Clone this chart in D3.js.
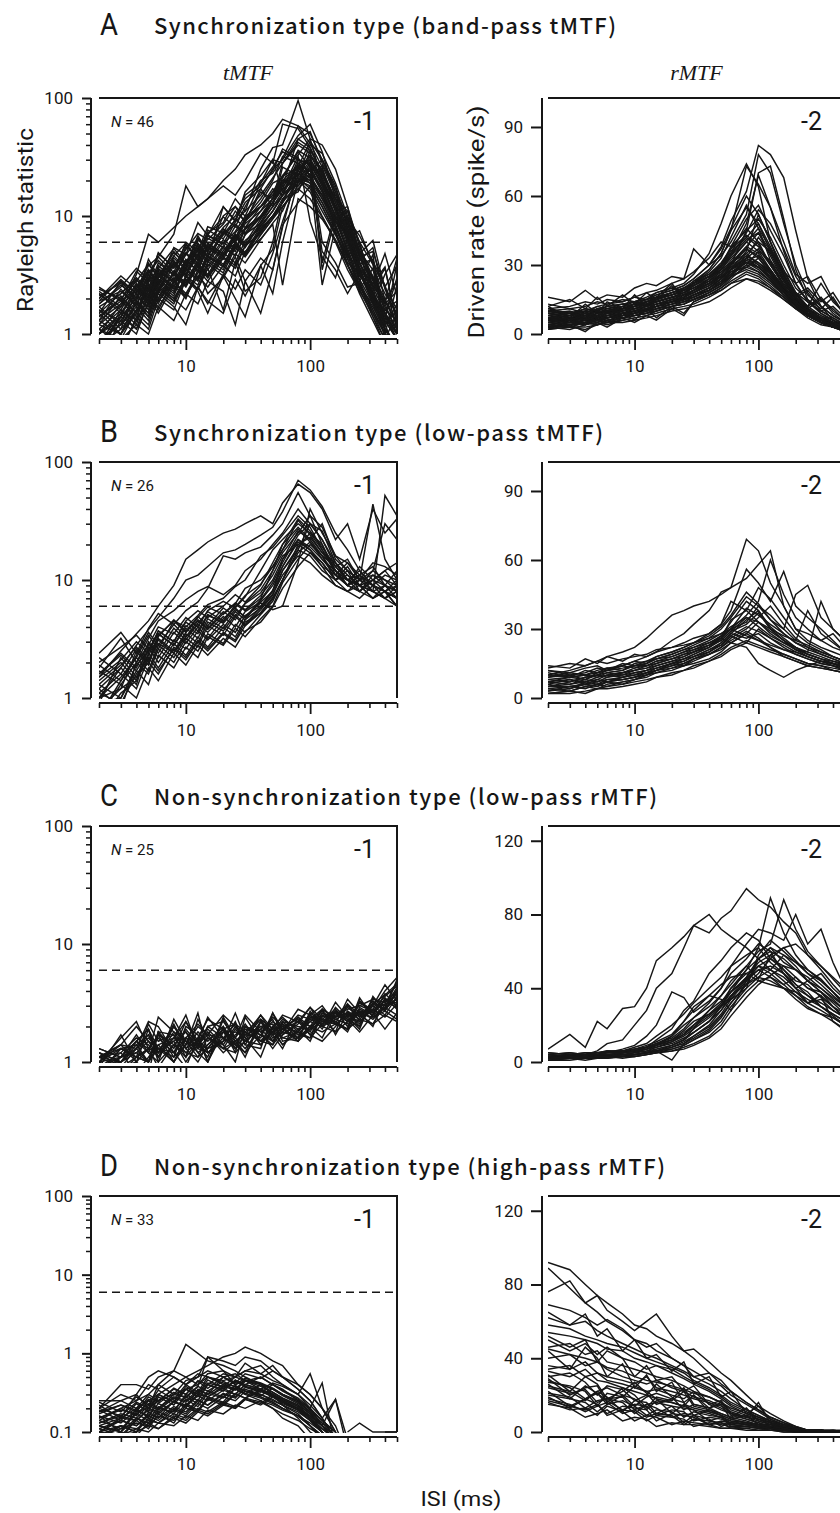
<!DOCTYPE html>
<html><head><meta charset="utf-8">
<script src="https://cdn.jsdelivr.net/npm/d3@7"></script>
<style>body{margin:0;background:#fff}svg{display:block}</style>
</head><body>
<svg id="chart" width="840" height="1513"></svg>
<script>
// ---------------- DATA ----------------
const ISI = [2,3,4,5,6,8,10,12.5,15,20,25,30,40,50,60,80,100,125,160,200,250,320,400,500];

const panelLetters = ["A","B","C","D"];
const panelTitles = [
  "Synchronization type (band-pass tMTF)",
  "Synchronization type (low-pass tMTF)",
  "Non-synchronization type (low-pass rMTF)",
  "Non-synchronization type (high-pass rMTF)"
];
const panelN = [46,26,25,33];
const columnHeaders = ["tMTF","rMTF"];
const cornerLabels = ["-1","-2"];
const xTickLabels = [10,100];
const xMinorTicks = [2,3,4,5,6,7,8,9,20,30,40,50,60,70,80,90,200,300,400,500];
const logTicks1 = [1,10,100];
const logTicks01 = [0.1,1,10,100];
const rateTicksAB = [0,30,60,90];
const rateTicksCD = [0,40,80,120];
const rayleighThreshold = 5.99;

const rayleighA = [
[1.2,2.1,1.5,3.0,4.5,7,18,12,14,20,25,33,40,50,66,58,50,30,18,8,4,2.5,1.5,1.0],
[0.8,1.4,2.6,1.9,3.4,2.8,5.5,4.6,7.2,8.8,14,11,25,38,40,95,45,20,12,6,3.2,2.0,1.2,0.7],
[2.3,1.7,3.2,7,6,8,10,12,14,18,15,20,34,28,60,55,38,22,14,9,5,3.5,2.2,1.5],
[1.5,2.8,2.0,4.3,3.1,5.0,3.8,6.2,5.5,7.0,9.2,13,17,25,30,48,60,35,14,11,4.5,5.0,2.5,3.8],
[0.9,1.2,1.8,1.4,2.5,2.0,1.6,2.5,1.8,3.2,2.4,3.5,2.6,4.8,9.0,22,32,24,12,7,4.0,2.2,1.3,0.9],
[1.8,2.5,3.6,2.9,4.8,3.7,5.2,7.1,6.3,8.5,12,10,19,26,35,30,28,18,12,9.5,6.8,4.1,2.6,1.1],
[1.1,0.9,1.6,2.3,1.9,3.0,2.6,4.1,5.5,4.6,6.4,9.5,12,16,22,33,45,40,25,12,5.5,3.0,1.9,1.2],
[2.0,3.1,2.4,3.8,4.5,3.3,6.0,5.0,8.1,7.2,11,9.0,16,14,28,42,36,3.5,10,7.0,2.8,4.7,1.0,2.6],
[0.7,1.5,2.2,1.6,3.0,4.2,3.1,5.8,4.4,12,9,16,22,30,28,45,52,28,16,8.5,4.5,2.6,1.8,2.3],
[1.4,2.0,1.3,2.9,2.2,4.6,5.9,4.2,7.0,9.8,8.1,12,20,23,31,58,41,26,11,12,4.8,6.2,2.4,1.4],
[1.0,1.8,2.9,2.1,3.8,2.9,2.0,3.5,2.2,3.0,4.5,2.8,4.4,3.5,8,25,30,21,12,6.2,3.5,1.9,1.1,0.8],
[1.6,1.1,2.3,3.4,2.6,3.9,3.0,5.4,4.1,7.3,6.0,9.1,13,19,21,35,26,17,8,9.8,3.1,2.7,3.7,1.2],
[0.6,1.3,1.0,1.9,2.7,2.1,3.7,6.8,4.9,10,12,8.8,17,12,26,22,40,34,19,10,6.0,3.9,2.5,1.6],
[2.2,1.6,2.7,2.0,3.6,5.3,4.0,6.5,5.3,8.0,10,14,18,24,37,31,22,2.6,8.0,4.6,5.9,2.5,0.9,1.5],
[1.3,2.4,1.7,3.2,2.4,4.1,3.2,4.8,6.8,5.8,7.4,10,12,15,20,27,24,30,17,9.5,5.2,2.9,1.8,1.0],
[0.9,0.7,1.4,1.1,2.0,1.6,2.9,2.3,1.5,3.1,2.0,1.4,3.8,2.2,6,20,28,18,10,5.0,2.6,1.4,0.8,0.6],
[1.9,2.9,2.2,4.0,3.0,4.6,3.6,5.9,4.6,6.9,8.5,7.2,11,16,19,26,21,15,9.0,6.8,4.2,5.4,1.9,2.8],
[1.2,1.0,1.9,1.5,2.8,2.2,3.9,3.0,4.9,3.9,5.9,4.8,7.8,10,13,24,33,25,13,7.4,3.6,2.0,1.4,0.9],
[2.5,1.9,3.4,2.7,4.9,3.6,5.7,4.4,7.6,6.4,9.4,8.0,12,17,15,21,19,13,7.5,4.0,3.3,1.8,3.2,4.7],
[0.8,1.6,1.2,2.4,1.8,3.4,2.7,4.3,3.5,5.4,4.6,6.9,9.8,13,18,45,38,23,14,8.0,4.4,2.8,1.6,1.3],
[1.5,2.2,3.0,2.4,4.0,3.2,4.9,3.9,6.5,5.4,8.2,7.0,10,14,20,18,25,16,9.5,11,6.0,2.2,1.5,1.0],
[1.0,1.4,2.0,3.5,2.6,5.4,4.7,8.8,6.8,12,9.2,15,19,30,16,23,20,27,15,8.8,4.9,3.1,2.0,1.2],
[1.7,1.2,2.5,3.5,2.7,4.4,3.5,5.3,6.9,5.8,8.9,11,15,21,28,40,34,20,11,6.0,3.4,1.9,1.1,0.8],
[0.7,1.0,1.5,1.2,2.2,1.7,1.2,2.5,1.9,1.5,2.9,2.1,3.8,5.2,12,17,22,15,8.5,4.7,2.5,1.6,1.0,0.7],
[2.1,2.7,1.9,3.3,4.2,3.1,4.7,6.4,5.1,7.8,6.5,9.6,14,20,32,28,24,17,10,6.3,3.9,2.6,4.8,2.1],
[1.3,1.8,2.6,2.0,3.3,2.5,4.3,3.4,5.6,4.5,6.9,5.7,8.3,11,15,30,27,19,12,6.9,3.7,2.3,1.4,1.0],
[1.1,0.8,1.3,2.0,1.5,2.6,2.0,3.5,2.8,4.4,3.6,5.6,7.2,10,13,19,36,24,14,7.7,4.1,2.1,1.3,0.9],
[1.8,2.6,2.0,3.0,2.3,3.8,4.8,3.7,5.9,4.8,7.2,9.0,12,15,22,25,30,4.0,11,6.4,7.5,3.9,1.2,1.6],
[0.9,1.2,1.7,1.3,2.3,1.8,2.9,2.4,3.6,1.6,4.1,2.3,3.0,6,14,20,18,12,7.2,4.3,2.6,1.7,1.1,0.7],
[1.4,1.9,1.4,2.6,2.0,3.3,2.6,4.0,3.2,5.1,6.7,5.5,8.9,13,17,32,9,4.5,3.0,6.5,3.3,2.0,1.5,1.1],
[2.4,2.0,2.8,3.9,3.0,4.9,3.9,5.6,4.5,7.5,6.2,8.6,11,14,19,22,20,14,9.2,5.3,2.9,1.8,1.0,0.6],
[1.0,1.5,1.1,1.8,2.4,1.9,3.1,2.6,4.1,3.3,5.4,4.5,6.9,9.5,13,26,43,30,16,8.9,4.7,2.9,1.7,1.1],
[1.6,1.3,2.1,1.7,2.9,2.3,3.6,2.9,4.6,3.8,6.0,7.9,10,13,19,24,21,15,8.8,7.1,3.1,2.4,3.6,1.2],
[0.8,1.1,1.6,2.5,1.9,2.8,2.2,3.3,4.3,3.5,5.6,4.7,7.4,10,14,16,27,6,4,2.5,2.7,1.5,0.9,0.6],
[1.9,2.3,1.8,2.8,3.5,2.7,4.0,5.0,4.0,6.0,5.0,7.7,9.6,13,17,21,17,11,6.9,4.6,3.6,2.5,1.9,4.4],
[1.2,1.7,2.4,1.8,3.1,2.4,3.4,4.6,3.7,5.6,4.6,7.0,8.7,12,16,28,24,16,9.3,5.0,2.8,1.6,1.0,0.8],
[1.5,1.0,1.9,1.4,2.4,3.2,2.5,3.8,3.0,4.7,5.9,4.9,8.2,11,15,19,26,22,13,7.1,3.9,4.3,1.5,0.9],
[0.7,1.4,1.1,2.2,1.6,2.8,2.1,3.1,2.5,3.8,3.1,5.0,6.4,8.5,2.6,14,12,9.4,6.3,3.9,2.5,1.8,1.2,1.8],
[2.0,2.8,2.2,3.5,2.8,4.0,3.2,4.5,5.8,4.7,7.0,5.9,9.4,13,18,23,19,13,8.0,4.8,5.0,1.9,1.3,3.9],
[1.3,1.0,1.6,2.1,1.7,2.7,3.5,2.8,4.5,3.7,5.7,4.6,7.6,10,12,18,23,5,3.5,2.2,3.3,2.0,1.4,1.0],
[1.1,1.6,1.3,2.0,2.6,2.0,3.0,3.9,3.1,4.9,4.0,6.2,7.9,11,15,27,22,14,8.1,4.4,2.4,1.4,0.9,0.6],
[1.7,2.2,2.9,2.3,3.6,2.8,4.2,3.4,5.4,4.3,6.6,5.4,8.6,12,15,20,16,10,6.2,3.8,2.4,3.6,1.1,0.8],
[0.6,0.9,1.2,1.0,1.7,1.3,2.2,1.8,2.8,2.3,1.2,2.8,1.5,3.5,8.4,13,18,12,7.0,3.9,2.2,1.3,0.8,0.5],
[2.2,1.5,2.4,1.9,3.2,2.5,3.9,5.2,4.2,6.3,5.3,7.9,10,14,21,36,31,19,10,5.6,3.2,2.2,1.4,3.0],
[1.4,2.0,1.5,2.7,2.0,3.4,2.6,3.7,3.0,4.5,3.8,5.6,7.0,9.4,12,17,14,9.8,6.0,3.5,2.3,1.5,1.0,0.7],
[1.0,1.3,1.9,1.5,2.5,1.9,3.1,2.4,3.9,3.1,4.8,4.0,6.3,8.7,11,22,29,20,11,6.1,3.4,2.1,1.6,1.9]
];

const rateA = [
[8,9,7,11,10,12,14,15,17,19,21,24,30,38,49,62,82,78,68,45,24,12,6,3],
[5,6,8,7,9,10,12,13,15,18,20,22,28,35,45,73,65,55,40,26,22,25,15,8],
[16,14,19,15,17,16,20,22,21,25,24,37,30,34,40,52,78,70,48,30,18,10,7,4],
[3,4,5,6,7,8,9,11,12,14,15,17,20,24,30,45,70,73,50,28,15,9,6,3],
[10,11,9,12,13,14,16,15,18,20,22,26,35,48,60,74,64,40,25,17,20,14,18,10],
[6,5,7,8,7,9,10,12,14,16,17,19,24,30,38,50,56,45,34,22,14,10,7,4],
[4,3,5,4,6,7,8,9,11,13,14,16,19,22,28,36,52,40,28,18,11,7,4,2],
[12,7,13,9,14,11,17,12,16,22,15,23,26,30,35,42,48,38,26,17,12,22,14,9],
[2,3,2,4,5,6,7,8,10,12,13,15,18,21,25,33,42,35,24,15,9,5,3,1],
[7,8,10,9,11,12,13,14,16,18,19,21,25,29,34,44,54,48,37,25,17,12,8,5],
[9,7,8,10,9,11,12,13,15,17,19,22,27,33,42,56,46,32,21,14,9,6,4,2],
[5,6,4,7,8,9,10,11,13,15,16,18,22,26,31,38,44,34,23,15,10,7,5,3],
[11,12,14,13,15,14,16,18,19,22,24,27,33,40,38,45,50,42,30,20,15,11,16,8],
[3,5,6,5,7,8,9,10,12,14,16,18,21,25,29,35,40,36,27,18,12,8,5,3],
[6,8,7,9,10,11,12,14,15,17,18,20,23,27,32,40,46,37,26,16,10,6,4,2],
[8,6,9,8,10,12,11,13,14,16,17,19,22,25,28,33,37,30,22,15,11,8,6,4],
[4,5,6,7,6,8,9,10,11,13,15,17,20,24,28,32,34,28,20,13,8,5,3,2],
[13,11,12,14,13,15,14,16,18,20,19,22,25,28,31,35,30,26,20,16,19,12,8,5],
[2,4,1,5,3,7,5,8,6,11,8,14,17,20,24,30,36,32,24,16,10,6,3,2],
[7,9,8,10,9,11,13,12,14,16,18,20,24,29,35,48,69,55,36,22,14,9,6,3],
[5,4,6,5,7,8,9,11,12,14,15,17,19,22,26,31,29,25,19,14,10,7,5,4],
[9,10,8,11,12,11,13,15,16,18,20,22,26,31,37,46,40,30,21,14,12,16,10,6],
[3,4,5,4,6,7,8,9,10,12,13,15,18,21,25,29,33,27,20,13,8,5,3,1],
[6,7,9,8,10,9,11,13,14,16,18,21,25,30,36,42,38,31,23,16,11,7,5,3],
[10,8,11,10,12,13,12,14,16,18,20,23,28,35,45,55,48,36,25,17,11,15,9,5],
[4,6,5,7,8,7,9,10,12,13,15,16,19,22,26,30,27,23,18,13,9,6,4,2],
[8,7,6,9,8,10,11,12,13,15,17,19,22,26,30,37,34,28,20,14,10,7,5,4],
[2,6,4,8,5,9,6,11,7,12,9,14,17,20,23,27,25,21,16,11,7,4,3,1],
[7,5,8,7,9,8,10,11,13,14,16,18,21,25,28,34,31,26,19,13,9,6,4,2],
[11,9,10,12,11,13,14,13,15,17,19,21,24,28,33,40,36,28,20,14,10,7,5,3],
[5,7,6,8,7,9,10,12,13,15,16,19,23,28,34,41,44,36,25,16,10,6,4,2],
[3,2,4,5,4,6,7,8,9,11,12,13,16,19,22,26,24,20,15,11,8,5,3,2],
[9,8,10,9,11,10,12,13,14,16,17,19,22,25,29,33,29,24,18,13,9,6,4,2],
[6,5,7,6,8,9,8,10,11,13,14,16,19,23,27,31,28,23,17,12,8,5,3,2],
[4,5,4,6,7,8,9,10,12,14,15,17,20,24,30,38,35,27,19,12,8,5,3,2],
[12,15,11,16,12,17,13,18,15,21,17,22,25,27,30,34,31,27,21,18,14,10,12,7],
[5,6,7,6,8,9,10,11,12,14,15,16,19,22,25,28,26,22,17,12,8,6,4,3],
[8,9,7,10,9,11,12,14,15,17,19,21,25,30,37,43,39,30,21,14,9,6,4,2],
[3,4,5,6,5,7,8,9,11,12,14,15,18,21,25,32,29,24,18,12,8,5,3,2],
[7,6,8,7,9,10,11,12,13,15,16,18,21,24,27,29,27,23,18,13,9,7,5,3],
[10,9,11,10,12,13,14,15,17,19,21,24,30,37,46,60,52,40,27,22,25,15,11,6],
[4,3,5,6,5,7,8,9,10,12,13,15,17,19,22,24,23,20,16,12,8,6,4,2],
[6,7,6,8,9,8,10,11,12,14,15,17,20,23,26,33,30,25,19,13,9,6,4,2],
[9,8,9,11,10,12,13,14,16,17,19,20,23,26,31,37,33,26,19,14,10,7,5,3],
[2,3,3,4,5,5,6,7,8,10,11,12,14,17,20,24,22,19,15,11,8,5,3,2],
[7,8,9,8,10,11,12,13,14,16,17,19,22,25,28,31,29,25,19,14,10,7,5,3]
];

const rayleighB = [
[1.5,2.5,3.5,4.5,6.0,9.0,15,18,21,25,27,30,35,30,45,65,55,40,22,30,15,40,25,33],
[1.0,1.8,2.8,3.8,4.8,7.0,10,11,13,17,18,20,24,28,38,70,58,42,25,18,12,9,8,7],
[2.4,3.6,2.4,3.9,5.2,4.2,5.5,6.5,8.5,16,15,17,19,24,30,55,35,28,16,14,11,13,9,8],
[1.2,0.8,2.0,3.2,4.5,5.5,6.8,8.0,8.8,7.5,9.0,12,15,20,25,40,30,22,13,15,10,44,15,10],
[0.7,1.4,2.2,3.4,2.6,4.5,4.0,5.0,6.2,7.0,8.8,10,16,19,24,35,28,18,12,10,9,12,30,22],
[1.8,3.2,2.0,2.8,4.0,3.5,4.8,4.0,5.5,6.6,5.8,7.2,12,18,22,30,25,20,11,9,8,11,10,9],
[1.3,1.0,1.9,2.5,3.7,3.0,4.5,5.5,4.8,6.0,7.5,6.5,9.0,14,20,28,22,16,10,13,9,8,52,35],
[0.9,2.2,1.5,2.3,3.3,4.6,3.7,4.8,5.9,5.1,6.3,8.5,10,13,18,32,24,17,14,10,11,9,7,8],
[2.0,2.7,3.4,2.6,3.5,2.8,4.1,3.5,5.0,4.4,6.2,5.5,7.0,12,17,25,35,20,12,9,13,10,8,6],
[1.1,0.9,1.6,2.1,2.9,2.4,3.3,4.2,3.6,4.9,4.0,5.4,6.5,8.0,15,22,18,14,10,12,8,10,9,12],
[1.6,2.4,1.8,2.9,2.2,3.6,2.9,4.0,3.2,4.7,5.8,4.8,6.8,9.5,14,24,30,26,14,11,9,7,9,8],
[0.8,1.2,2.5,1.9,3.2,2.5,3.6,4.6,3.9,5.4,4.6,6.3,7.8,11,16,20,17,13,9,8,10,8,7,9],
[1.4,2.0,1.4,3.0,2.4,3.9,3.1,4.3,5.4,4.5,5.9,7.4,9.2,13,18,27,21,15,11,14,10,12,10,8],
[1.0,1.5,2.2,1.7,2.8,2.2,3.2,2.7,4.1,3.4,4.9,4.1,5.6,7.4,12,19,25,18,12,9,11,9,8,7],
[2.2,1.6,2.6,2.0,3.4,4.5,3.6,4.9,4.1,5.8,4.9,6.4,8.3,12,20,33,26,19,13,10,12,9,11,10],
[0.6,1.1,1.4,2.4,1.8,2.9,2.3,3.3,2.7,4.0,3.3,4.6,5.8,7.6,11,16,14,11,9,8,7,9,8,6],
[1.7,1.3,2.0,1.6,2.6,2.0,3.0,2.5,3.5,2.9,4.2,3.6,5.1,6.6,10,18,30,22,14,10,8,10,12,14],
[1.2,1.8,1.3,2.7,2.0,3.1,2.6,3.7,3.1,4.2,3.6,5.0,6.0,8.2,13,22,19,15,12,9,11,8,7,8],
[0.9,1.0,1.7,1.3,2.3,1.8,2.7,2.2,3.3,2.8,3.9,3.3,4.7,6.0,9.5,15,20,16,11,10,9,8,9,7],
[1.5,2.1,3.0,2.4,3.7,3.0,4.4,3.7,5.1,4.3,5.6,4.9,6.4,5.6,6.0,14,40,25,16,12,10,14,13,11],
[1.1,1.6,1.2,2.2,1.7,2.6,2.1,3.0,2.5,3.5,3.0,4.1,5.3,7.1,10,20,23,17,12,9,8,7,8,9],
[1.9,1.4,2.3,3.6,2.8,4.2,3.3,4.5,3.8,5.2,6.4,5.6,7.4,10,15,26,22,30,15,12,10,11,9,8],
[0.7,1.3,1.0,1.8,1.4,2.4,1.9,2.8,2.3,3.2,2.7,3.7,4.4,5.9,8.5,13,17,14,10,8,9,7,8,10],
[1.3,1.9,2.7,2.1,3.1,2.4,3.5,2.9,4.4,3.7,5.1,4.2,5.9,8.0,12,18,16,12,10,11,9,10,12,9],
[1.0,1.2,1.5,2.0,1.6,2.7,2.2,3.1,2.6,3.6,3.1,4.4,5.2,6.9,10,17,21,16,13,10,9,8,7,6],
[1.6,2.3,1.7,2.5,3.5,2.8,3.9,3.2,4.7,3.9,5.4,4.6,6.7,9.0,13,21,18,13,11,9,10,9,8,7]
];

const rateB = [
[10,12,14,16,18,20,22,26,30,36,38,40,42,45,48,69,64,50,40,30,25,22,20,18],
[5,7,9,10,12,14,16,18,20,25,28,32,38,46,48,52,58,64,40,30,28,25,22,20],
[14,13,17,15,18,16,19,18,20,22,24,26,28,32,38,56,50,42,55,40,35,30,25,20],
[2,3,5,4,6,7,8,10,12,15,17,19,22,26,30,36,42,60,45,35,30,25,28,22],
[8,9,8,10,11,12,14,15,17,19,21,23,26,30,35,44,40,34,30,45,49,35,30,25],
[4,5,6,5,7,8,9,11,12,14,16,18,20,24,28,34,38,30,25,22,20,18,16,15],
[12,10,11,13,12,14,16,15,18,20,22,24,28,32,42,38,33,28,24,22,19,17,15,13],
[6,4,7,6,8,9,10,12,13,15,14,17,19,22,26,30,35,40,32,26,22,20,18,16],
[3,5,4,6,7,6,8,9,11,12,14,15,17,20,24,28,25,22,19,17,15,14,13,12],
[9,11,10,12,13,12,15,16,17,18,20,22,25,28,30,33,40,36,30,25,38,28,24,20],
[7,6,8,7,9,10,11,12,14,16,17,19,22,25,29,35,31,27,24,21,20,42,30,25],
[11,9,12,11,13,14,13,15,17,19,21,22,24,27,30,27,25,23,21,20,18,16,15,14],
[2,3,2,4,5,6,7,8,9,11,12,14,16,19,22,25,23,21,19,17,15,14,12,11],
[5,6,7,8,7,9,10,11,13,15,16,18,21,23,27,24,30,26,22,19,17,15,14,12],
[13,15,14,16,15,17,18,19,21,22,23,24,26,28,31,35,33,30,27,25,23,20,18,16],
[6,8,7,9,10,11,12,13,14,16,18,20,23,26,30,39,36,32,28,24,22,19,17,15],
[4,3,5,6,5,7,8,10,11,13,14,16,19,22,25,29,26,22,18,16,14,13,12,11],
[8,7,9,10,9,11,12,13,15,17,19,20,23,27,33,42,38,31,26,22,19,17,16,14],
[10,9,10,11,12,11,13,14,16,18,20,21,24,26,24,22,15,12,9,12,14,16,15,13],
[3,4,6,5,7,8,9,10,12,13,15,17,19,21,24,28,33,29,25,21,18,16,14,12],
[7,8,6,8,10,9,11,12,13,15,17,18,21,24,28,26,28,24,21,19,17,15,14,13],
[12,11,13,14,12,15,14,16,18,20,22,24,27,31,36,46,41,34,28,24,21,19,17,15],
[5,5,6,7,8,8,9,11,12,14,15,17,20,23,27,31,29,26,23,20,18,16,15,13],
[9,10,8,11,12,13,14,14,16,17,19,21,23,25,29,32,37,30,25,21,19,17,15,14],
[2,2,3,4,4,5,6,7,9,10,12,13,16,18,21,24,22,20,18,16,14,13,12,11],
[7,9,10,9,11,10,12,14,15,17,18,20,22,26,34,38,48,43,35,28,24,21,18,16]
];

const rayleighC = [
[1.2,0.9,1.0,1.9,1.1,1.6,2.5,1.3,1.2,1.5,2.2,1.4,1.3,2.6,1.7,2.1,2.9,2.0,1.8,3.1,2.2,2.8,4.0,5.2],
[1.0,1.6,2.2,1.3,1.2,2.0,1.5,1.4,1.1,2.4,1.6,1.3,1.9,2.3,1.5,1.6,2.5,3.0,2.1,1.9,3.5,2.4,2.9,4.3],
[0.8,1.3,1.1,1.0,1.8,1.7,1.1,2.3,1.6,1.3,1.2,2.4,1.5,1.4,2.2,1.7,1.6,2.6,2.2,1.9,3.2,2.6,1.9,2.6],
[1.1,1.0,1.3,2.2,2.0,1.2,0.9,1.6,2.3,1.9,1.2,1.5,2.5,1.7,1.3,2.4,1.8,2.8,1.7,2.6,2.1,3.0,4.5,3.3],
[0.9,1.7,1.0,0.8,1.8,1.1,1.4,2.6,1.2,1.5,2.6,1.6,1.1,2.0,1.6,1.5,2.7,2.0,3.2,2.4,1.9,3.6,2.7,3.9],
[1.3,1.1,1.7,1.2,1.0,2.3,1.5,1.1,1.3,1.9,2.1,1.4,2.2,1.8,1.4,1.9,2.2,2.7,2.1,3.4,2.6,2.0,3.5,2.8],
[1.0,1.4,2.0,1.5,1.3,1.0,1.6,2.1,1.7,1.2,1.5,1.8,1.5,2.0,2.4,1.8,1.6,2.1,2.6,2.2,3.2,2.7,3.1,4.7],
[0.7,1.1,1.5,1.9,1.0,1.4,1.8,1.2,1.0,2.0,1.4,1.2,2.2,1.5,1.9,2.2,1.7,1.5,2.0,2.7,2.3,3.0,2.5,3.6],
[1.1,0.9,1.3,1.7,1.2,2.1,1.3,1.5,2.4,1.6,1.3,2.0,1.7,1.4,1.8,2.8,2.5,1.9,2.9,2.3,1.8,2.5,3.8,3.0],
[0.9,1.2,0.8,1.1,1.4,1.0,1.6,1.2,1.4,1.8,1.3,1.5,1.9,1.5,2.1,1.6,2.0,2.3,1.8,2.2,2.7,2.3,2.9,2.5],
[1.2,1.0,1.5,1.9,1.3,1.1,2.0,1.7,1.0,2.3,1.5,1.7,2.5,1.9,1.4,1.8,2.6,2.2,2.5,3.0,2.4,3.3,2.7,4.1],
[0.8,1.3,1.1,1.0,1.7,1.4,1.1,1.5,1.9,1.4,1.0,2.0,1.5,1.8,2.3,1.9,1.5,2.5,2.2,1.8,2.9,2.5,3.4,3.0],
[1.0,1.1,1.5,1.2,2.4,1.8,1.3,1.0,1.4,1.9,1.5,1.1,2.2,1.7,1.9,2.4,2.0,1.6,2.7,2.3,2.0,3.2,2.8,3.5],
[1.1,1.4,1.0,1.3,1.6,1.2,1.9,1.4,2.0,2.2,1.6,2.5,1.8,1.3,1.7,2.2,2.9,2.3,2.1,1.9,3.3,2.7,3.6,4.4],
[0.9,1.0,1.2,1.5,1.1,1.8,1.5,1.3,1.6,1.4,2.0,1.5,1.4,1.8,2.0,1.5,1.9,2.6,2.4,3.1,2.5,2.1,3.1,3.2],
[1.1,1.3,1.4,1.0,1.8,1.3,2.2,1.4,1.2,1.6,1.4,1.9,1.7,2.4,2.0,1.8,2.3,2.8,2.4,2.6,2.0,3.5,3.0,3.8],
[0.7,0.9,1.1,1.3,0.9,1.4,1.2,1.1,1.6,1.3,1.5,1.2,1.7,1.5,1.8,1.6,2.0,1.8,2.1,1.9,2.3,2.1,2.5,2.2],
[1.2,1.0,1.4,1.7,1.2,1.5,1.0,1.4,1.7,2.5,2.0,1.7,1.6,2.6,1.9,1.5,2.0,2.3,2.8,2.2,2.7,2.6,3.3,2.9],
[1.0,1.3,1.1,2.1,1.5,1.7,1.3,1.8,1.5,2.0,1.3,1.7,2.0,2.1,1.6,1.8,2.5,2.1,2.4,2.9,2.4,3.1,2.8,5.0],
[0.8,1.1,1.3,1.0,1.3,1.2,1.6,1.4,1.8,1.3,1.9,1.5,2.0,1.7,2.2,2.0,1.9,2.2,2.1,2.5,2.2,2.8,2.4,3.1],
[1.1,1.2,1.6,1.4,1.1,2.0,1.4,1.6,1.0,1.8,1.6,2.1,1.4,1.9,2.0,2.3,1.7,2.4,2.6,2.4,3.0,2.7,3.3,3.6],
[0.9,1.1,1.5,1.3,1.7,1.0,1.4,2.0,1.7,1.6,2.1,1.8,2.3,1.6,1.8,2.5,2.3,2.1,2.4,2.8,3.0,3.4,3.2,4.0],
[1.3,1.1,1.2,1.0,1.4,1.6,2.2,1.5,1.3,1.5,1.7,2.0,1.8,2.2,1.9,1.6,2.4,2.2,2.7,2.0,2.8,2.5,2.9,3.4],
[1.0,0.8,1.1,1.3,1.2,1.6,1.2,1.5,1.3,1.9,1.4,1.8,1.5,1.8,2.1,1.7,2.2,2.0,2.3,2.1,2.6,2.4,2.7,2.3],
[1.1,1.4,1.3,1.6,1.3,1.5,1.8,1.3,2.0,1.6,1.8,1.6,2.3,1.9,2.5,2.2,2.0,2.8,2.3,2.6,2.5,3.1,3.7,4.6]
];

const rateC = [
[7,15,8,22,18,29,30,40,55,62,68,74,80,72,68,62,56,60,48,40,36,30,25,20],
[4,5,4,6,10,12,20,28,40,48,62,74,70,78,82,94,88,84,76,70,58,50,42,35],
[3,4,3,4,5,7,9,14,20,38,35,27,33,40,52,64,72,70,66,80,64,72,54,40],
[2,3,2,3,4,5,6,8,12,18,28,33,48,55,62,70,66,56,50,44,42,35,30,24],
[4,3,4,5,5,6,8,10,14,20,26,32,40,46,52,58,62,89,70,58,50,44,38,30],
[1,2,2,2,3,3,4,5,6,9,12,18,28,36,44,52,60,64,88,72,60,52,45,38],
[3,3,4,4,4,5,6,7,9,12,15,20,28,33,38,46,56,62,54,50,46,40,34,28],
[2,2,3,3,3,4,5,6,7,9,12,16,22,30,38,50,62,54,48,40,32,36,22,17],
[5,4,5,4,6,5,7,8,10,14,20,24,30,36,42,52,45,58,50,42,38,30,26,22],
[2,3,3,3,4,4,5,7,9,14,22,30,36,42,46,48,44,42,40,38,32,34,28,24],
[3,2,3,4,3,5,6,7,9,12,17,22,26,30,34,40,58,66,60,54,50,45,38,32],
[1,1,2,2,2,3,3,4,5,7,9,12,16,22,30,40,46,50,58,54,48,42,36,30],
[4,5,4,5,6,6,7,9,11,15,22,28,36,34,28,44,52,48,42,46,40,38,32,26],
[2,2,2,3,3,3,4,5,6,8,10,13,18,25,32,42,56,62,58,52,44,48,40,34],
[3,4,3,4,4,5,6,8,10,13,18,24,32,40,48,56,64,60,56,50,44,40,35,30],
[2,3,3,3,4,4,4,5,6,8,11,14,20,28,36,46,54,58,62,55,48,44,38,32],
[1,2,2,2,2,3,3,4,5,6,8,10,14,20,28,38,44,46,42,36,30,26,22,18],
[3,3,3,4,4,4,5,6,8,10,13,16,22,30,40,48,52,50,44,38,34,30,26,22],
[2,2,3,2,3,3,4,5,6,7,9,12,17,24,32,42,48,56,62,64,58,52,46,40],
[4,3,4,4,5,5,6,7,8,11,15,19,25,31,38,45,50,46,40,34,29,26,24,20],
[1,2,1,2,3,2,3,4,5,6,7,9,13,18,25,35,42,47,52,50,44,38,33,28],
[3,4,4,5,5,6,7,8,10,12,16,20,26,32,40,50,56,50,46,40,44,38,30,24],
[2,2,2,3,3,4,4,5,6,1,10,14,19,26,34,44,50,52,48,42,36,32,28,24],
[5,4,5,5,6,6,7,8,9,11,14,18,24,30,36,42,46,44,40,36,32,28,24,20],
[2,3,2,3,3,4,4,5,7,9,12,16,22,28,35,45,52,56,52,46,40,36,30,26]
];

const rayleighD = [
[0.15,0.2,0.25,0.3,0.4,0.6,1.3,1.0,0.8,0.7,0.6,0.5,0.4,0.3,0.25,0.2,0.15,0.1,0.05,null,null,null,null,null],
[0.1,0.15,0.2,0.25,0.3,0.4,0.5,0.6,0.7,0.9,1.0,1.2,1.0,0.8,0.7,0.4,0.3,0.2,0.1,null,null,null,null,null],
[0.25,0.25,0.3,0.5,0.6,0.5,0.4,0.5,0.9,0.8,0.7,0.9,0.8,0.6,0.5,0.35,0.25,0.15,0.08,null,null,null,null,null],
[0.2,0.4,0.4,0.35,0.5,0.6,0.5,0.4,0.55,0.6,0.5,0.6,0.7,0.5,0.4,0.3,0.55,0.2,0.1,null,null,null,null,null],
[0.12,0.1,0.18,0.2,0.25,0.3,0.35,0.4,0.5,0.45,0.5,0.45,0.4,0.35,0.3,0.25,0.2,0.42,0.06,null,null,null,null,null],
[0.18,0.25,0.2,0.3,0.25,0.35,0.3,0.45,0.4,0.55,0.5,0.6,0.55,0.45,0.4,0.3,0.2,0.12,0.26,0.06,null,null,null,null],
[0.1,0.08,0.15,0.12,0.2,0.18,0.3,0.25,0.4,0.35,0.45,0.4,0.5,0.4,0.35,0.25,0.18,0.1,0.06,null,null,null,null,null],
[0.22,0.15,0.3,0.2,0.4,0.3,0.45,0.5,0.6,0.5,0.55,0.45,0.35,0.3,0.22,0.15,0.1,0.08,null,null,null,null,null,null],
[0.08,0.12,0.1,0.18,0.15,0.25,0.2,0.35,0.3,0.5,0.42,0.55,0.48,0.6,0.5,0.4,0.3,0.2,0.12,0.05,null,null,null,null],
[0.14,0.2,0.16,0.25,0.2,0.3,0.28,0.38,0.9,0.6,0.4,0.45,0.38,0.32,0.27,0.22,0.15,0.1,0.07,null,null,null,null,null],
[0.16,0.1,0.2,0.15,0.28,0.22,0.35,0.3,0.42,0.38,0.5,0.75,0.55,0.7,0.5,0.35,0.25,0.15,0.08,null,null,null,null,null],
[0.1,0.14,0.12,0.16,0.14,0.2,0.17,0.25,0.22,0.3,0.28,0.35,0.3,0.25,0.22,0.18,0.14,0.1,0.06,null,null,null,null,null],
[0.2,0.3,0.25,0.4,0.35,0.5,0.4,0.55,0.5,0.4,0.35,0.3,0.25,0.2,0.15,0.12,0.08,null,null,null,null,null,null,null],
[0.12,0.15,0.14,0.2,0.18,0.24,0.22,0.3,0.28,0.36,0.3,0.4,0.35,0.42,0.38,0.3,0.22,0.15,0.26,0.08,null,null,null,null],
[0.09,0.11,0.13,0.12,0.16,0.14,0.2,0.18,0.26,0.22,0.3,0.27,0.33,0.28,0.24,0.2,0.16,0.12,0.09,null,null,null,null,null],
[0.17,0.22,0.18,0.28,0.24,0.36,0.3,0.44,0.36,0.5,0.4,0.48,0.42,0.36,0.3,0.24,0.18,0.13,0.1,null,null,null,null,null],
[0.11,0.09,0.14,0.11,0.17,0.13,0.22,0.18,0.28,0.24,0.36,0.3,0.4,0.32,0.27,0.22,0.17,0.12,0.07,null,null,null,null,null],
[0.24,0.18,0.28,0.22,0.34,0.26,0.4,0.32,0.5,0.42,0.38,0.33,0.3,0.26,0.22,0.17,0.12,0.09,null,null,null,null,null,null],
[0.13,0.17,0.15,0.22,0.19,0.27,0.24,0.32,0.28,0.38,0.34,0.44,0.5,0.4,0.33,0.26,0.19,0.14,0.1,null,null,null,null,null],
[0.1,0.12,0.11,0.14,0.13,0.17,0.15,0.2,0.18,0.24,0.21,0.27,0.24,0.2,0.17,0.14,0.11,0.09,null,null,null,null,null,null],
[0.19,0.14,0.23,0.18,0.3,0.24,0.38,0.3,0.46,0.36,0.44,0.38,0.33,0.28,0.23,0.19,0.14,0.1,0.07,null,null,null,null,null],
[0.08,0.1,0.09,0.13,0.11,0.16,0.14,0.19,0.17,0.23,0.2,0.26,0.23,0.3,0.26,0.21,0.16,0.12,0.08,null,null,null,null,null],
[0.15,0.19,0.17,0.23,0.2,0.28,0.25,0.34,0.3,0.4,0.35,0.46,0.41,0.35,0.29,0.23,0.17,0.12,0.09,null,null,null,null,null],
[0.12,0.1,0.15,0.13,0.18,0.15,0.23,0.19,0.27,0.23,0.31,0.27,0.35,0.3,0.25,0.2,0.15,0.11,0.08,null,null,null,null,null],
[0.2,0.16,0.24,0.2,0.3,0.24,0.35,0.28,0.4,0.33,0.46,0.38,0.34,0.29,0.24,0.19,0.14,0.1,null,null,null,null,null,null],
[0.09,0.12,0.1,0.15,0.13,0.19,0.16,0.23,0.2,0.28,0.25,0.33,0.29,0.36,0.3,0.24,0.18,0.13,0.09,null,null,null,null,null],
[0.14,0.11,0.17,0.14,0.21,0.17,0.26,0.21,0.31,0.27,0.36,0.31,0.27,0.23,0.2,0.16,0.12,0.09,null,null,null,null,null,null],
[0.11,0.14,0.12,0.17,0.15,0.21,0.18,0.26,0.22,0.31,0.27,0.37,0.32,0.4,0.34,0.27,0.2,0.14,0.1,0.06,null,null,null,null],
[0.16,0.13,0.19,0.16,0.23,0.19,0.28,0.23,0.33,0.28,0.39,0.33,0.28,0.24,0.2,0.16,0.12,0.08,null,null,null,null,null,null],
[0.1,0.09,0.11,0.1,0.13,0.12,0.16,0.14,0.19,0.17,0.22,0.2,0.25,0.22,0.19,0.16,0.13,0.1,null,0.1,0.13,0.1,0.1,0.1],
[0.13,0.16,0.14,0.19,0.17,0.24,0.21,0.29,0.25,0.34,0.3,0.4,0.35,0.3,0.26,0.21,0.16,0.12,0.09,null,null,null,null,null],
[0.18,0.22,0.19,0.26,0.23,0.32,0.27,0.38,0.33,0.44,0.37,0.33,0.28,0.24,0.2,0.16,0.12,0.08,null,null,null,null,null,null],
[0.07,0.09,0.1,0.12,0.11,0.15,0.13,0.18,0.16,0.22,0.2,0.26,0.22,0.28,0.24,0.19,0.15,0.11,0.08,null,null,null,0.1,0.1]
];

const rateD = [
[92,88,80,74,70,64,58,56,52,48,44,45,38,32,28,20,14,10,6,3,1,1,0,0],
[89,78,70,65,60,55,50,46,48,40,36,30,26,22,18,12,9,6,4,2,1,0,0,0],
[76,82,70,74,66,60,55,60,64,52,44,40,32,28,22,16,12,8,5,2,1,1,1,1],
[69,66,62,58,61,56,50,48,44,40,36,33,28,25,20,15,11,7,4,2,1,0,0,0],
[65,58,64,52,56,44,50,40,42,33,38,26,30,19,22,10,14,7,4,2,1,1,0,0],
[62,58,60,55,52,48,45,42,40,36,33,30,32,26,22,16,12,8,5,3,1,1,1,0],
[58,56,52,50,48,46,43,40,38,35,32,28,24,20,16,12,9,6,4,2,1,0,0,0],
[54,52,50,48,45,44,40,38,36,34,30,27,23,19,15,11,8,5,3,1,1,0,0,0],
[52,46,50,38,44,40,30,36,28,30,22,25,15,17,10,8,7,5,3,2,1,0,0,0],
[50,44,48,42,46,40,38,34,36,32,29,26,22,18,14,10,8,6,3,2,1,1,0,0],
[46,48,42,44,38,36,34,32,30,28,25,22,19,16,12,9,7,4,2,1,0,0,0,0],
[44,34,46,40,30,37,24,31,22,27,16,20,13,15,7,9,4,4,3,2,1,1,0,0],
[40,42,36,38,34,30,28,26,28,24,22,19,17,14,11,8,6,4,2,1,0,0,0,0],
[36,34,38,32,30,28,26,30,24,22,20,18,16,13,10,8,16,5,3,2,1,0,1,0],
[34,36,30,32,28,26,24,22,23,20,18,22,15,12,10,7,5,3,2,1,0,0,0,0],
[31,22,30,26,18,22,27,21,15,18,24,15,13,16,9,7,5,3,2,1,1,0,0,0],
[30,32,27,20,25,23,17,20,26,19,12,15,13,10,8,6,4,3,2,1,0,0,0,0],
[29,20,24,25,16,24,20,13,19,17,22,14,12,10,8,13,6,4,3,2,1,1,0,0],
[28,24,18,22,24,20,14,19,21,18,16,9,12,9,7,5,4,3,2,1,1,0,0,0],
[27,25,22,14,21,19,25,22,18,10,15,13,11,9,4,5,4,2,1,1,0,0,0,0],
[26,18,25,21,15,20,18,12,17,16,14,20,11,9,7,5,4,3,2,1,1,0,0,0],
[25,22,17,22,19,11,17,16,10,14,13,12,6,8,6,5,3,2,1,1,0,0,0,0],
[24,21,23,16,18,19,12,15,16,14,8,11,9,8,3,4,3,2,1,1,0,0,0,0],
[22,14,18,21,17,12,15,14,9,12,11,6,8,7,5,4,3,2,1,0,0,0,0,0],
[21,19,13,17,18,16,10,15,13,8,10,9,4,6,5,4,3,2,1,1,0,0,0,0],
[20,18,16,11,15,17,14,9,12,11,5,9,7,3,5,4,3,2,1,0,0,0,0,0],
[19,13,18,15,10,14,13,12,6,10,9,8,4,5,4,3,2,2,1,1,0,0,0,0],
[18,15,11,14,16,10,12,8,10,9,4,7,6,5,2,3,2,1,1,0,0,0,0,0],
[17,14,12,15,9,12,11,6,9,8,7,3,5,4,3,3,2,1,1,0,0,0,0,0],
[16,12,13,9,14,11,6,9,8,4,6,5,4,2,2,2,1,1,0,0,0,0,0,0],
[15,13,8,10,12,6,8,7,3,5,4,4,3,2,2,1,1,1,0,0,0,0,0,0],
[45,42,40,38,35,33,30,28,27,25,23,21,19,16,13,10,7,5,3,2,1,1,0,0],
[33,30,34,28,27,24,22,20,18,16,14,12,10,8,6,4,3,2,1,1,0,0,0,0]
];

// ---------------- LAYOUT / STYLE ----------------
const INK = "#161616";
const SANS = "Roboto,'Liberation Sans',Arial,sans-serif";
const GOTHIC = "'Noto Sans CJK JP','Noto Sans',sans-serif";
const panelTop = [98, 462, 826, 1196];
const PH = 236;
const titleBase = [35, 442, 806, 1176];
const titleLen = [462, 449, 503, 511];
const LEFT = {x0: 99, x1: 397, axisX: 91};
const RIGHT = {x0: 548, x1: 845, axisX: 542};

const panels = [
  {ray: rayleighA, rate: rateA, logDomain: [1, 100], logTicks: logTicks1, rateDomain: [0, 102.6], rateTicks: rateTicksAB},
  {ray: rayleighB, rate: rateB, logDomain: [1, 100], logTicks: logTicks1, rateDomain: [0, 102.6], rateTicks: rateTicksAB},
  {ray: rayleighC, rate: rateC, logDomain: [1, 100], logTicks: logTicks1, rateDomain: [0, 128], rateTicks: rateTicksCD},
  {ray: rayleighD, rate: rateD, logDomain: [0.1, 100], logTicks: logTicks01, rateDomain: [0, 128], rateTicks: rateTicksCD}
];

const svg = d3.select("#chart");
const defs = svg.append("defs");

function minorLog(domain) {
  const out = [];
  for (let d = domain[0]; d < domain[1] * 0.999; d *= 10) {
    for (let m = 2; m <= 9; m++) out.push(+(d * m).toPrecision(3));
  }
  return out;
}

function styleAxis(g, sw) {
  g.select(".domain").remove();
  g.selectAll(".tick line").attr("stroke", INK).attr("stroke-width", sw);
  g.selectAll(".tick text").attr("font-family", SANS).attr("font-size", 17).attr("fill", INK);
}

function drawXAxis(g, xs, yPos) {
  g.append("line").attr("x1", xs.range()[0]).attr("x2", xs.range()[1])
    .attr("y1", yPos).attr("y2", yPos).attr("stroke", INK).attr("stroke-width", 2);
  const mi = g.append("g").attr("transform", `translate(0,${yPos})`)
    .call(d3.axisBottom(xs).tickValues(xMinorTicks).tickSize(5).tickFormat(""));
  styleAxis(mi, 1.6);
  const ma = g.append("g").attr("transform", `translate(0,${yPos})`)
    .call(d3.axisBottom(xs).tickValues(xTickLabels).tickSize(11).tickPadding(10).tickFormat(d3.format("d")));
  styleAxis(ma, 1.8);
}

function drawSide(i, side, kind) {
  const p = panels[i];
  const top = panelTop[i], bot = top + PH;
  const S = side;
  const g = svg.append("g");
  const xs = d3.scaleLog().domain([2, 500]).range([S.x0, S.x1]);
  const ys = kind === "log"
    ? d3.scaleLog().domain(p.logDomain).range([bot, top])
    : d3.scaleLinear().domain(p.rateDomain).range([bot, top]);
  const data = kind === "log" ? p.ray : p.rate;
  const cid = `clip-${kind}-${i}`;
  defs.append("clipPath").attr("id", cid).append("rect")
    .attr("x", S.x0).attr("y", top).attr("width", S.x1 - S.x0).attr("height", PH + 1);

  const line = d3.line()
    .defined((d, j) => d != null && (kind !== "log" || d > 0) && j < ISI.length)
    .x((d, j) => xs(ISI[j]))
    .y(d => ys(d));

  g.append("g").attr("clip-path", `url(#${cid})`)
    .selectAll("path").data(data).join("path")
    .attr("d", line).attr("fill", "none").attr("stroke", INK)
    .attr("stroke-width", 1.45).attr("stroke-linejoin", "miter").attr("stroke-miterlimit", 4);

  if (kind === "log") {
    g.append("line").attr("x1", S.x0).attr("x2", S.x1)
      .attr("y1", ys(rayleighThreshold)).attr("y2", ys(rayleighThreshold))
      .attr("stroke", INK).attr("stroke-width", 1.4).attr("stroke-dasharray", "8,5");
  }

  g.append("path").attr("d", `M${S.x0},${top}H${S.x1}V${bot}`)
    .attr("fill", "none").attr("stroke", INK).attr("stroke-width", 2);

  g.append("line").attr("x1", S.axisX).attr("x2", S.axisX).attr("y1", top).attr("y2", bot)
    .attr("stroke", INK).attr("stroke-width", 2);
  if (kind === "log") {
    const mi = g.append("g").attr("transform", `translate(${S.axisX},0)`)
      .call(d3.axisLeft(ys).tickValues(minorLog(p.logDomain)).tickSize(5).tickFormat(""));
    styleAxis(mi, 1.5);
    const ma = g.append("g").attr("transform", `translate(${S.axisX},0)`)
      .call(d3.axisLeft(ys).tickValues(p.logTicks).tickSize(9).tickPadding(9).tickFormat(d => String(d)));
    styleAxis(ma, 2);
  } else {
    const ma = g.append("g").attr("transform", `translate(${S.axisX},0)`)
      .call(d3.axisLeft(ys).tickValues(p.rateTicks).tickSize(11).tickPadding(8).tickFormat(d3.format("d")));
    styleAxis(ma, 2);
  }

  drawXAxis(g, xs, bot + 5);

  const cl = kind === "log" ? cornerLabels[0] : cornerLabels[1];
  g.append("text").attr("x", kind === "log" ? S.x1 - 22 : S.x0 + 274).attr("y", top + 32)
    .attr("text-anchor", "end").attr("font-family", SANS).attr("font-size", 25)
    .attr("fill", INK).text(cl);

  if (kind === "log") {
    const t = g.append("text").attr("x", S.x0 + 12).attr("y", top + 29)
      .attr("font-family", SANS).attr("font-size", 15).attr("fill", INK);
    t.append("tspan").attr("font-style", "italic").text("N");
    t.append("tspan").text(" = " + panelN[i]);
  }
}

panels.forEach((p, i) => {
  svg.append("text").attr("x", 100).attr("y", titleBase[i])
    .attr("font-family", SANS).attr("font-size", 31).attr("fill", INK)
    .attr("textLength", 18).attr("lengthAdjust", "spacingAndGlyphs").text(panelLetters[i]);
  svg.append("text").attr("x", 154).attr("y", titleBase[i] - 1)
    .attr("font-family", GOTHIC).attr("font-size", 22).attr("font-weight", 500).attr("fill", INK)
    .attr("textLength", titleLen[i]).attr("lengthAdjust", "spacing").text(panelTitles[i]);
  drawSide(i, LEFT, "log");
  drawSide(i, RIGHT, "rate");
});

const serif = "'Liberation Serif','Times New Roman',serif";
svg.append("text").attr("x", (LEFT.x0 + LEFT.x1) / 2).attr("y", 80).attr("text-anchor", "middle")
  .attr("font-family", serif).attr("font-style", "italic").attr("font-size", 22).attr("fill", INK).text(columnHeaders[0]);
svg.append("text").attr("x", (RIGHT.x0 + RIGHT.x1) / 2).attr("y", 80).attr("text-anchor", "middle")
  .attr("font-family", serif).attr("font-style", "italic").attr("font-size", 22).attr("fill", INK).text(columnHeaders[1]);

svg.append("text").attr("transform", "translate(33,220) rotate(-90)").attr("text-anchor", "middle")
  .attr("font-family", SANS).attr("font-size", 22).attr("fill", INK)
  .attr("textLength", 184).attr("lengthAdjust", "spacingAndGlyphs").text("Rayleigh statistic");
svg.append("text").attr("transform", "translate(484,222) rotate(-90)").attr("text-anchor", "middle")
  .attr("font-family", SANS).attr("font-size", 22).attr("fill", INK)
  .attr("textLength", 233).attr("lengthAdjust", "spacingAndGlyphs").text("Driven rate (spike/s)");
svg.append("text").attr("x", 461).attr("y", 1506).attr("text-anchor", "middle")
  .attr("font-family", SANS).attr("font-size", 21).attr("fill", INK)
  .attr("textLength", 81).attr("lengthAdjust", "spacingAndGlyphs").text("ISI (ms)");
</script>
</body></html>
